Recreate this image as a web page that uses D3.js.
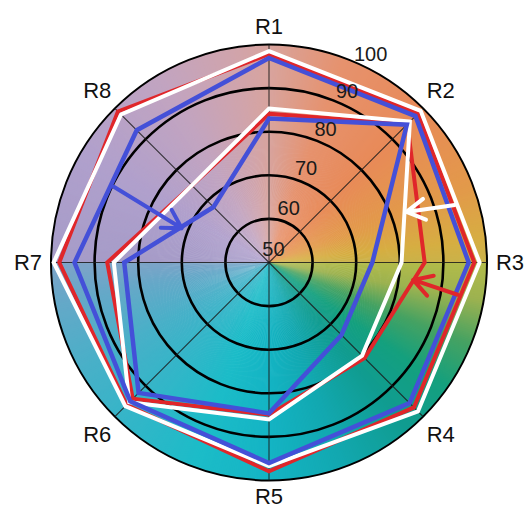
<!DOCTYPE html>
<html><head><meta charset="utf-8">
<script src="https://cdn.jsdelivr.net/npm/d3@7"></script>
<style>
html,body{margin:0;padding:0;background:#fff;}
svg{display:block;}
text{font-family:"Liberation Sans",Arial,sans-serif;}
</style>
</head><body>
<svg id="chart" width="526" height="509"></svg>
<script>
// ---- data ----
const categories = ["R1","R2","R3","R4","R5","R6","R7","R8"];
const ringTicks = [50,60,70,80,90,100];
const redOuter   = [97.8,98.3,97.1,97.0,97.9,96.2,98.1,99.0];
const whiteOuter = [98.5,99.2,98.3,98.3,96.7,96.6,99.4,98.0];
const blueOuter  = [96.9,97.5,95.8,95.6,96.0,95.0,94.6,92.9];
const redInner   = [84.1,94.9,85.7,81.0,84.9,94.2,87.1,75.0];
const whiteInner = [85.3,95.7,80.4,80.2,86.0,95.3,85.6,75.0];
const blueInner  = [83.0,94.7,73.7,73.5,84.6,92.3,83.2,68.0];
// arrow start / end as [bearing in degrees clockwise from R1, value]
const arrowFrom = [[296,89.6],[72.8,94.6],[99.7,93.9]];
const arrowTo   = [[291.4,71.5],[69.8,83.6],[96.9,83.3]];
// background conic colour stops (bearing degrees)
const bgStops  = [0,20,45,70,84,89.9,90.1,100,112,125,140,160,180,200,240,260,269.9,270.1,300,330,350,360];
const bgColors = ["#d8a49e","#e6926e","#e88a58","#e29a4a","#d6ae42","#cab24a","#b2bb4a","#9cb250","#46a262","#14a07e","#109c90","#12a8b0","#14b4c4","#1cbcc8","#48b0c8","#66a8c8","#7ea4c8","#a69cc8","#b0a0cc","#c2a4c0","#d0a4ac","#d8a49e"];

// ---- layout ----
const cx = 269, cy = 262.5, R = 218;
const svg = d3.select("#chart");
const g = svg.append("g").attr("transform", `translate(${cx},${cy})`);

const rScale = d3.scaleLinear().domain([50,100]).range([0,R]);
const aScale = d3.scaleLinear().domain([0, categories.length]).range([0, 2*Math.PI]);
const deg = d => d*Math.PI/180;
const pt = (a, r) => [r*Math.sin(a), -r*Math.cos(a)];

// background conic gradient
const colorAt = d3.scaleLinear().domain(bgStops).range(bgColors).interpolate(d3.interpolateRgb);
const arc = d3.arc().innerRadius(0).outerRadius(R);
const N = 720;
const wedges = d3.range(N).map(i => ({s: i*360/N, e: (i+1)*360/N}));
g.append("g").selectAll("path").data(wedges).join("path")
  .attr("d", d => arc({startAngle: deg(d.s), endAngle: deg(d.e)+0.006}))
  .attr("fill", d => colorAt((d.s+d.e)/2));

// rings
g.append("g").selectAll("circle").data(ringTicks.filter(t => t > 50)).join("circle")
  .attr("r", d => rScale(d)).attr("fill","none").attr("stroke","#000")
  .attr("stroke-width", d => d === 100 ? 2 : 2.6);

// spokes
g.append("g").selectAll("line").data(categories).join("line")
  .attr("x1",0).attr("y1",0)
  .attr("x2",(d,i)=>pt(aScale(i),R)[0]).attr("y2",(d,i)=>pt(aScale(i),R)[1])
  .attr("stroke","#1a1a1a").attr("stroke-width",1.1).attr("stroke-opacity",0.85);

// polygons
const radial = d3.lineRadial()
  .angle((d,i) => aScale(i)).radius(d => rScale(d)).curve(d3.curveLinearClosed);
const series = [
  {v: redOuter, c: "#e0262a", w: 4},
  {v: redInner, c: "#e0262a", w: 4},
  {v: whiteOuter, c: "#ffffff", w: 4},
  {v: whiteInner, c: "#ffffff", w: 4},
  {v: blueOuter, c: "#4450d8", w: 4.5},
  {v: blueInner, c: "#4450d8", w: 4.5}
];
g.append("g").selectAll("path").data(series).join("path")
  .attr("d", d => radial(d.v)).attr("fill","none")
  .attr("stroke", d => d.c).attr("stroke-width", d => d.w)
  .attr("stroke-linejoin","miter");

// arrows
const arrowColors = ["#4450d8","#ffffff","#e0262a"];
const ag = g.append("g");
arrowFrom.forEach((f, i) => {
  const p0 = pt(deg(f[0]), rScale(f[1]));
  const p1 = pt(deg(arrowTo[i][0]), rScale(arrowTo[i][1]));
  const ang = Math.atan2(p0[1]-p1[1], p0[0]-p1[0]);
  const L = 21, spread = deg(30);
  const w1 = [p1[0] + L*Math.cos(ang+spread), p1[1] + L*Math.sin(ang+spread)];
  const w2 = [p1[0] + L*Math.cos(ang-spread), p1[1] + L*Math.sin(ang-spread)];
  ag.append("path")
    .attr("d", `M${p0[0]},${p0[1]}L${p1[0]},${p1[1]}M${w1[0]},${w1[1]}L${p1[0]},${p1[1]}L${w2[0]},${w2[1]}`)
    .attr("fill","none").attr("stroke", arrowColors[i]).attr("stroke-width",4)
    .attr("stroke-linecap","round").attr("stroke-linejoin","round");
});

// ring labels (drawn above the lines)
g.append("g").selectAll("text").data(ringTicks).join("text")
  .attr("x", d => pt(deg(20 + 6*(d-60)/40), rScale(d)+14)[0])
  .attr("y", d => pt(deg(20 + 6*(d-60)/40), rScale(d)+14)[1])
  .attr("text-anchor","middle").attr("dominant-baseline","central")
  .attr("font-size",20).attr("fill","#1a1a1a").text(d => d);

// axis labels
const labelR = i => { const a = aScale(i); const c = Math.cos(a);
  return 228 + (c < -0.9 ? 5.5 : 8*Math.abs(c)) + 13*Math.abs(Math.sin(a)); };
g.append("g").selectAll("text").data(categories).join("text")
  .attr("x",(d,i)=>pt(aScale(i),labelR(i))[0]).attr("y",(d,i)=>pt(aScale(i),labelR(i))[1])
  .attr("text-anchor","middle").attr("dominant-baseline","central")
  .attr("font-size",22).attr("fill","#111").text(d => d);
</script>
</body></html>
